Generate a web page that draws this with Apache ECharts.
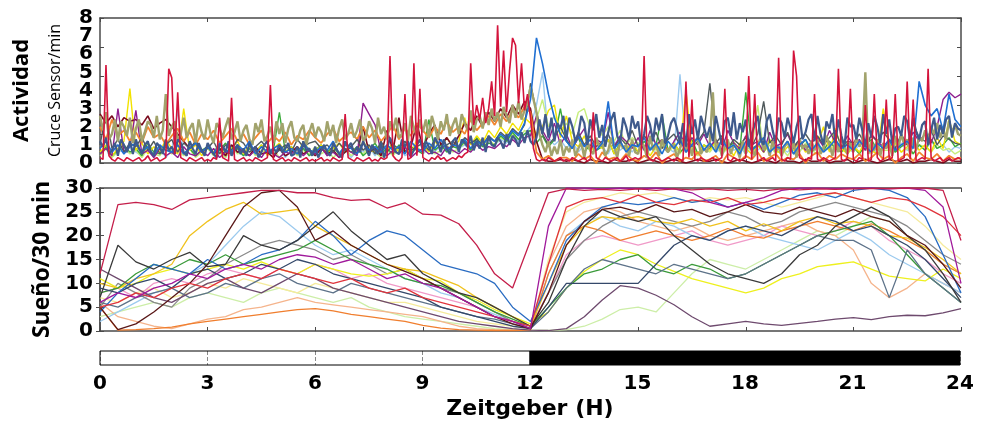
<!DOCTYPE html>
<html><head><meta charset="utf-8">
<script src="https://cdn.jsdelivr.net/npm/echarts@6/dist/echarts.min.js"></script>
<style>html,body{margin:0;padding:0;background:#fff}#c{width:987px;height:421px}</style>
</head><body><div id="c"></div>
<script>
// ---------- DATA ----------
const hourTicks = [0, 3, 6, 9, 12, 15, 18, 21, 24];
const lightStart = [0, 12];
const lightEnd = [12, 24];

// Activity, 5-min resolution (289 points, 0..24 h)
const actKhaki = [
2.6,1.8,2.8,1.3,1.6,2.4,1.2,2.3,2.0,1.5,2.5,1.1,
1.9,2.4,1.2,1.7,2.3,2.1,1.4,2.6,1.3,1.8,3.8,1.5,
2.0,2.3,1.2,1.6,2.5,1.4,1.9,2.2,1.1,2.4,1.7,1.3,
2.4,1.6,1.1,2.2,1.9,1.4,2.0,2.5,1.3,1.7,2.3,1.2,
1.8,2.1,1.3,1.0,2.2,1.7,2.4,1.2,1.5,2.0,1.1,2.3,
1.6,2.2,1.1,1.9,2.3,1.4,1.2,1.8,2.1,1.0,1.7,2.2,
1.4,2.0,1.7,1.2,2.3,1.5,2.1,1.1,1.9,2.4,1.3,1.6,
2.2,1.4,1.8,2.4,1.2,1.5,2.3,1.9,1.1,2.5,1.6,2.0,
1.3,2.3,1.8,2.5,1.4,1.6,2.2,1.2,2.6,1.9,1.5,2.4,
1.7,2.4,1.4,2.6,2.0,1.3,2.3,1.8,2.7,1.5,2.1,2.5,
1.6,2.7,2.2,1.8,2.9,1.7,2.4,2.6,1.9,2.8,2.1,3.0,
2.3,2.8,2.0,3.1,2.6,2.2,3.2,2.5,3.4,2.4,2.9,3.3,
4.2,3.5,2.8,1.6,1.0,0.6,1.2,0.4,0.9,0.5,1.3,0.4,
0.9,0.6,1.3,0.4,0.8,1.1,0.3,1.2,0.7,0.5,1.4,0.9,
1.1,0.4,0.7,1.4,0.9,0.3,1.2,0.8,1.0,0.4,1.3,0.6,
0.5,1.2,0.9,0.3,1.5,0.7,1.1,0.4,1.3,0.8,0.6,1.0,
1.0,0.3,0.8,1.3,0.6,1.1,0.4,1.2,1.4,0.5,0.8,0.6,
1.2,3.9,0.7,1.1,0.4,0.9,1.3,0.5,1.0,0.8,0.3,1.2,
0.5,1.3,0.9,0.4,1.0,1.4,0.7,1.1,0.4,1.2,0.6,0.9,
0.4,0.9,1.2,0.6,1.1,0.3,1.3,0.8,1.0,0.5,1.2,0.7,
1.3,0.5,0.8,1.5,1.0,0.4,1.2,0.6,1.4,0.9,0.5,1.1,
0.6,1.4,0.9,1.2,5.0,0.5,1.2,0.7,1.3,0.4,1.1,0.8,
1.1,0.4,1.5,0.8,1.6,1.0,1.3,0.5,1.4,0.7,1.5,1.2,
1.8,1.2,2.0,1.6,2.2,1.4,1.9,1.3,2.3,1.7,2.1,1.6,
1.5];
const actSlate = [
1.2,0.9,1.4,0.5,0.7,1.1,0.4,1.3,1.0,0.6,1.2,0.5,
1.3,0.8,0.5,1.0,1.2,0.6,0.4,1.1,0.9,0.5,1.3,0.7,
0.9,0.5,1.3,1.1,0.6,0.4,1.2,0.8,0.5,1.1,0.7,0.4,
1.1,0.8,0.5,0.3,1.0,0.9,0.6,1.2,0.4,0.7,1.0,0.5,
0.8,0.4,1.1,0.7,0.9,0.3,0.6,1.0,1.2,0.5,0.8,0.6,
1.0,0.6,0.8,1.1,0.4,0.5,0.9,0.3,1.2,0.7,0.8,0.4,
0.9,0.3,0.7,1.0,0.6,0.4,1.1,0.8,0.5,0.3,1.2,0.9,
1.1,0.5,0.9,0.6,1.2,0.8,0.4,1.0,0.7,0.5,1.1,0.3,
0.8,1.4,1.0,0.6,0.5,1.3,0.9,1.2,0.4,0.7,1.0,1.3,
0.7,1.2,0.9,0.5,1.4,1.1,0.6,1.3,0.8,0.5,1.2,1.4,
0.6,1.3,1.1,0.9,1.5,0.7,1.2,0.8,1.4,0.6,1.5,1.0,
0.9,1.4,1.2,0.8,1.6,1.0,1.5,1.3,0.9,1.7,1.1,1.8,
1.2,1.0,1.4,2.4,1.6,2.7,1.4,2.5,1.2,2.2,1.9,2.6,
1.3,2.5,2.0,1.2,1.6,2.6,2.2,1.0,2.4,1.8,2.7,1.4,
2.1,0.9,1.7,2.4,2.8,1.5,1.1,2.5,2.0,1.3,2.6,1.9,
2.3,1.0,1.6,2.6,2.1,1.2,2.5,1.8,2.7,1.1,1.5,2.2,
2.5,1.9,1.1,2.2,0.9,2.7,1.6,2.4,1.3,2.6,2.0,1.4,
2.0,1.2,2.6,1.8,1.0,2.3,2.5,1.5,2.8,1.3,2.2,1.7,
2.4,0.9,1.6,2.1,2.6,1.3,1.0,2.3,2.7,1.8,1.1,2.5,
2.2,1.4,2.5,1.9,1.1,2.0,2.6,1.3,1.7,2.4,2.7,1.2,
2.6,1.6,1.0,2.3,1.9,2.7,1.1,2.4,1.5,0.9,2.5,2.0,
2.1,1.3,2.5,1.8,0.9,2.2,1.4,2.6,2.0,1.1,2.7,1.6,
2.4,1.1,1.9,2.0,1.5,2.6,2.3,1.2,2.5,1.7,1.3,2.1,
2.3,1.0,1.8,2.5,1.3,2.1,1.6,2.4,2.6,1.4,2.2,1.9,
1.8];
const actRed = [
0.3,0.2,5.4,0.4,0.2,0.1,0.3,0.2,0.1,0.3,0.2,0.1,
0.2,0.3,0.1,0.2,0.4,0.1,0.2,0.3,0.1,0.2,0.3,5.2,
4.7,0.5,3.9,0.3,0.2,0.1,0.3,0.2,0.1,0.2,0.3,0.1,
0.2,0.1,0.3,0.2,2.5,0.3,0.2,0.1,3.6,0.2,0.1,0.2,
0.3,0.1,0.2,0.1,0.3,0.2,0.1,0.2,0.3,4.3,0.2,0.1,
0.2,0.3,0.1,0.2,0.1,0.3,0.2,0.1,0.2,0.3,0.1,0.2,
0.1,0.2,0.3,0.1,0.2,0.1,0.3,0.2,0.1,0.2,2.7,0.3,
0.2,0.1,0.3,0.2,0.1,0.2,0.3,0.1,0.2,0.1,0.3,0.2,
0.3,5.9,0.4,0.2,0.1,0.3,3.8,0.2,0.3,5.5,0.4,4.1,
0.3,0.2,0.1,0.3,0.2,0.4,0.2,0.3,0.1,0.2,0.3,0.2,
0.4,0.3,0.5,0.6,5.5,2.1,3.2,2.4,3.6,2.2,3.0,4.5,
2.6,7.6,3.1,6.2,2.8,5.1,6.9,6.5,3.3,5.5,2.9,3.8,
2.5,0.8,0.2,0.1,0.2,0.1,0.3,0.2,0.1,0.2,0.3,0.1,
0.2,0.1,0.3,0.2,0.1,0.2,0.3,0.1,0.2,2.8,0.3,0.2,
0.1,0.3,0.2,0.1,0.2,0.3,0.1,0.2,0.4,0.1,0.2,0.3,
0.2,0.3,5.9,0.4,0.2,0.1,0.3,0.2,0.1,0.2,0.3,0.2,
0.1,0.3,0.2,0.1,4.5,0.3,3.5,0.2,0.1,0.3,0.2,0.1,
0.2,0.3,0.1,0.2,0.3,4.1,0.2,0.1,0.3,0.2,0.1,0.2,
0.3,4.8,0.2,3.8,0.1,0.2,0.3,0.1,0.2,0.3,0.1,5.8,
0.2,0.1,0.3,0.2,6.2,4.8,0.3,0.2,0.1,0.3,0.2,3.8,
0.2,0.1,0.3,0.2,0.1,0.2,0.3,5.2,0.2,0.1,0.3,4.1,
0.2,0.1,0.3,0.2,3.2,0.1,0.2,3.8,0.3,0.1,0.2,3.5,
0.2,0.3,3.8,0.1,0.2,0.3,4.5,0.2,3.5,0.1,0.2,0.3,
0.2,5.2,0.3,0.1,0.2,0.3,0.1,0.2,0.3,0.1,0.2,0.3,
0.2];

// Activity, 10-min resolution (145 points, 0..24 h)
const actMaroon = [
2.7,2.2,2.6,2.0,2.5,2.3, 2.4,2.1,2.6,1.9,2.2,2.4, 2.0,1.6,1.2,0.8,1.1,0.6, 0.9,0.5,0.8,0.4,1.0,0.6,
0.7,0.4,0.9,0.5,0.6,0.3, 0.8,0.4,0.6,0.9,0.5,0.7, 0.4,0.8,0.5,0.7,0.3,0.6, 0.9,0.5,2.0,0.6,0.8,0.4,
1.8,0.7,2.5,0.6,0.9,2.2, 0.8,1.6,2.1,1.0,1.4,0.9, 1.5,2.2,1.8,2.6,2.0,2.8, 2.3,3.0,2.5,3.2,2.7,3.4,
3.0,1.2,0.2,0.1,0.1,0.2, 0.1,0.2,0.1,0.0,0.2,0.1, 0.1,0.0,0.2,0.1,0.1,0.2, 0.0,0.1,0.2,0.1,0.0,0.1,
0.2,0.1,0.0,0.1,0.2,0.1, 0.1,0.2,0.1,0.0,0.1,0.2, 0.1,0.0,0.1,0.2,0.1,0.0, 0.2,0.1,0.1,0.0,0.2,0.1,
0.1,0.2,0.0,0.1,0.1,0.2, 0.0,0.1,0.2,0.1,0.0,0.1, 0.2,0.1,0.1,0.2,0.0,0.1, 0.1,0.2,0.1,0.0,0.2,0.1, 0.1];
const actOrange = [
2.0,1.3,2.4,1.5,1.8,1.2, 1.7,1.1,2.0,1.4,1.6,1.0, 1.5,1.9,1.2,1.7,1.0,1.6, 1.3,1.8,1.1,1.5,1.9,1.2,
1.6,1.0,1.4,1.8,1.1,1.5, 1.2,1.7,1.0,1.5,1.3,1.8, 1.4,1.1,1.6,1.9,1.2,1.5, 1.7,1.3,2.0,1.4,1.8,1.2,
1.6,2.1,1.3,1.9,1.5,2.2, 1.8,1.4,2.0,1.6,2.3,1.7, 2.0,1.6,2.4,1.8,2.2,2.6, 2.1,2.7,2.3,2.9,2.5,3.1,
2.8,0.6,0.2,0.4,0.1,0.3, 0.3,0.1,0.5,0.2,0.4,0.0, 0.6,0.2,0.3,0.1,0.5,0.2, 0.1,0.4,0.2,0.6,0.0,0.3,
0.5,0.1,0.3,0.2,0.6,0.1, 0.2,0.4,0.0,0.5,0.3,0.1, 0.4,0.2,0.6,0.1,0.3,0.5, 0.1,0.3,0.2,0.5,0.0,0.4,
0.6,0.1,0.4,0.2,0.5,0.3, 0.2,0.5,0.1,0.3,0.6,0.2, 0.4,0.0,0.3,0.5,0.1,0.6, 0.3,0.2,0.5,0.1,0.4,0.2, 0.3];
const actPurple = [
0.5,0.8,0.4,3.0,0.6,0.9, 2.9,0.5,0.7,0.3,0.8,0.4, 0.6,0.3,0.9,0.5,0.4,0.7, 0.4,0.8,0.3,0.6,0.5,0.9,
0.6,0.4,0.7,0.3,0.8,0.5, 0.3,0.6,0.5,0.8,0.4,0.7, 0.5,0.9,0.4,0.6,0.3,0.8, 0.6,0.4,3.3,2.7,2.1,0.6,
0.4,0.7,0.5,0.9,0.3,0.6, 0.8,0.5,0.6,0.4,0.9,0.7, 0.5,0.8,0.6,1.0,0.7,0.9, 0.8,1.1,0.9,1.3,1.0,1.4,
1.5,2.6,1.8,1.2,2.2,1.0, 1.6,0.8,1.4,1.9,0.7,1.3, 1.1,2.8,0.9,1.5,1.2,0.8, 1.4,0.7,1.8,1.0,1.3,0.6,
1.2,1.7,0.8,1.4,1.0,1.6, 0.9,1.3,0.7,1.8,1.1,0.8, 1.5,1.0,1.2,0.6,1.7,0.9, 1.1,1.6,0.8,1.3,0.7,1.2,
1.4,0.9,1.8,1.1,0.8,1.5, 1.0,1.3,0.7,1.6,1.2,0.9, 1.3,0.8,1.5,1.0,1.7,1.2, 1.6,1.1,2.0,3.5,3.9,3.6, 3.8];
const actYellow = [
0.6,1.0,0.4,0.8,1.2,4.1, 0.7,1.1,0.5,0.9,0.6,1.3, 0.8,0.5,3.0,0.7,1.0,0.4, 0.9,0.6,1.1,0.5,0.8,1.2,
0.5,0.9,0.6,1.0,0.4,0.8, 1.1,0.6,0.9,0.5,1.2,0.7, 0.6,1.0,0.5,0.8,1.1,0.6, 0.9,0.5,1.2,0.7,0.6,1.0,
0.7,1.1,0.6,0.9,0.5,1.3, 1.0,0.6,1.2,0.8,1.4,0.9, 1.2,2.5,1.0,1.5,1.1,1.8, 1.4,2.0,1.6,2.2,1.8,2.5,
2.2,1.6,2.0,2.9,3.2,1.4, 2.6,1.2,0.9,1.5,0.6,1.1, 0.8,1.3,0.5,1.0,0.7,1.2, 0.6,1.0,0.4,0.9,1.3,0.7,
1.1,0.6,4.0,0.8,0.5,1.0, 0.7,1.2,0.6,0.9,0.4,1.1, 0.8,0.5,1.0,0.6,1.3,0.7, 0.5,0.9,0.7,1.2,0.6,0.8,
1.0,2.0,0.6,1.9,0.8,0.5, 0.9,0.6,1.2,0.7,0.5,3.0, 0.8,1.1,0.6,0.9,1.3,0.7, 1.0,0.6,1.4,0.8,2.4,1.2, 1.0];
const actGreen = [
0.5,0.9,0.4,0.7,1.0,0.6, 0.8,0.4,1.1,0.6,0.5,0.9, 0.6,1.0,0.5,0.8,0.4,0.7, 0.9,0.5,0.7,1.1,0.6,0.8,
0.4,0.8,0.6,1.0,0.5,0.7, 2.8,0.6,0.9,0.5,0.8,0.4, 0.7,1.0,0.6,0.9,0.5,0.8, 0.6,0.9,0.4,0.7,1.1,0.5,
0.8,0.5,1.0,0.6,0.9,0.7, 0.5,2.4,0.7,1.0,0.6,0.9, 0.8,1.2,0.7,1.4,0.9,1.1, 1.0,1.5,1.2,1.7,1.3,1.6,
1.8,1.1,1.5,0.9,1.3,3.0, 1.2,0.8,1.4,0.6,1.0,0.7, 0.9,1.3,0.5,1.1,0.7,1.0, 0.6,1.2,0.8,1.0,2.7,0.7,
1.1,0.6,0.9,1.3,0.5,1.0, 0.8,1.2,0.6,0.9,1.1,0.7, 3.9,0.8,1.0,0.6,1.2,0.9, 0.7,1.1,0.5,0.9,1.3,0.6,
1.0,0.7,1.2,0.8,0.6,1.1, 0.9,0.5,1.0,1.3,0.7,0.8, 1.2,0.6,0.9,1.1,0.5,1.0, 0.7,1.3,0.8,1.0,1.4,0.9, 1.1];
const actLightGreen = [
0.4,0.8,0.3,0.6,0.9,0.5, 0.7,0.3,0.8,0.5,0.4,0.9, 0.5,0.7,0.4,0.8,0.3,0.6, 0.8,0.4,0.6,0.3,0.9,0.5,
0.6,0.9,0.4,0.7,0.5,0.8, 0.3,0.6,0.8,0.4,0.7,0.5, 0.9,0.5,0.7,0.3,0.6,0.8, 0.4,0.7,0.5,0.9,0.6,0.3,
0.7,0.4,0.8,0.6,0.5,0.9, 0.6,0.9,0.5,0.7,1.0,0.6, 0.8,1.1,0.7,1.2,0.9,1.3, 1.0,1.4,1.2,1.6,1.3,1.8,
1.5,2.4,3.5,2.0,2.6,1.8, 2.2,1.6,2.8,3.0,1.9,2.3, 1.5,2.0,1.2,1.8,1.0,1.4, 1.1,0.8,1.3,0.7,1.0,0.6,
0.9,0.5,1.1,0.7,0.4,0.8, 0.6,1.0,0.5,0.8,1.2,0.6, 0.9,0.7,3.2,0.6,1.0,0.5, 0.8,0.4,0.9,0.6,1.1,0.7,
0.5,0.9,0.7,1.0,0.6,0.8, 1.0,0.6,0.8,0.5,0.9,0.7, 0.7,1.1,0.6,0.8,0.5,1.0, 0.9,0.6,1.0,0.7,0.8,0.5, 0.7];
const actBlue = [
0.8,1.2,0.6,1.0,0.5,0.9, 1.1,0.6,0.9,0.4,1.0,0.7, 0.6,1.0,0.5,0.8,1.1,0.6, 0.9,0.5,1.1,0.7,0.6,1.0,
0.7,1.2,0.5,0.9,0.6,0.8, 1.0,0.6,0.8,0.5,1.1,0.7, 0.6,0.9,0.7,1.2,0.5,1.0, 0.8,0.5,1.1,0.7,0.9,0.6,
1.0,0.7,0.9,0.5,1.2,0.8, 0.6,1.1,0.8,1.3,0.7,1.0, 0.9,1.3,0.8,1.2,1.0,1.4, 1.2,1.6,1.3,1.8,1.5,2.2,
3.5,6.9,5.5,3.8,2.5,1.6, 1.2,0.8,1.5,0.9,1.3,0.7, 1.1,3.4,0.8,1.2,0.6,1.0, 0.9,1.4,0.7,1.1,0.5,1.2,
0.8,1.3,0.6,1.0,1.4,0.7, 1.1,0.6,1.3,0.8,1.0,0.5, 1.2,0.7,1.0,1.4,0.6,0.9, 0.8,1.2,0.5,1.0,1.3,0.7,
1.1,0.6,0.9,1.3,0.8,1.0, 0.7,1.2,0.9,0.6,1.1,0.8, 1.3,0.7,1.0,1.2,0.8,4.5, 3.2,2.6,3.0,1.8,3.8,2.4, 2.0];
const actLightBlue = [
0.5,0.9,0.4,0.7,0.6,1.0, 0.6,0.4,0.8,0.5,0.9,0.3, 0.7,2.9,0.5,0.8,0.4,0.6, 0.9,0.5,0.7,0.3,0.8,0.6,
0.4,0.8,0.6,0.9,0.5,0.7, 0.8,0.3,0.7,0.5,0.9,0.4, 0.6,0.9,0.4,0.8,0.5,0.7, 0.3,0.7,0.6,0.9,0.4,0.8,
0.7,0.5,0.9,0.4,0.6,0.8, 0.5,0.8,0.6,1.0,0.7,0.9, 0.8,1.0,0.7,1.2,0.9,1.1, 1.0,1.3,1.1,1.5,1.2,1.6,
2.0,3.2,5.0,1.4,1.0,1.3, 0.8,1.2,0.6,1.0,0.7,1.1, 0.9,0.5,1.2,0.7,1.0,0.6, 1.1,0.7,0.9,0.5,1.0,0.8,
0.6,4.9,0.8,1.1,0.5,0.9, 1.0,0.6,0.8,1.2,0.7,0.9, 0.5,0.9,0.7,1.0,0.6,1.1, 0.8,0.6,1.0,0.7,0.9,0.5,
1.1,0.7,0.9,0.6,1.0,0.8, 0.6,1.0,0.7,0.9,0.5,0.8, 0.9,0.6,1.1,0.7,0.8,1.0, 0.7,1.2,0.8,1.0,0.6,0.9, 0.8];
const actDarkGray = [
1.0,2.7,0.8,1.3,0.6,1.1, 0.9,1.4,0.7,1.2,0.5,1.0, 1.3,0.6,1.1,0.8,1.2,0.7, 0.8,1.2,0.5,1.0,0.7,1.3,
1.1,0.6,0.9,1.2,0.8,0.5, 0.7,1.0,0.6,1.3,0.9,1.1, 1.2,0.8,1.0,0.6,1.1,0.7, 0.9,1.3,0.7,1.0,0.5,1.2,
0.6,1.0,0.8,1.2,0.7,0.9, 1.1,0.7,1.3,0.8,1.0,1.2, 0.9,1.4,1.1,1.3,1.0,1.5, 1.2,1.7,1.4,1.9,1.6,2.1,
4.4,2.8,1.6,1.0,1.4,2.0, 1.3,0.8,1.7,1.0,1.5,0.9, 1.2,1.6,0.8,1.4,1.0,1.8, 0.9,1.5,1.1,1.7,0.8,1.3,
1.6,1.0,1.4,0.9,1.2,1.7, 4.4,1.1,1.5,0.8,1.3,1.0, 1.4,0.9,1.6,3.4,1.1,1.5, 1.0,1.7,0.9,1.3,1.6,1.1,
1.5,1.0,1.4,1.8,0.9,1.2, 1.1,1.6,1.0,1.5,1.2,1.7, 1.3,0.8,1.6,1.0,2.2,1.4, 1.2,1.8,1.0,1.5,1.3,1.1, 1.0];

// Sleep per 30 min, 30-min resolution (49 points, 0..24 h)
const sleepCrimson  = [12,26.5,27,26.5,25.5,27.5,28,28.5,29,29.5,29.5,29,29,28,27.4,27.6,25.8,26.9,24.5,24.3,22.5,18,12,9,19,29,29.8,29.5,29.7,29.5,29.8,29.5,29.8,29.6,29.8,29.5,29.7,29.4,29.8,29.6,29.8,29.7,29.8,29.9,29.9,30,30,29.5,19];
const sleepRed      = [5,6,8,7,9,10,9,11,12,11,13,12,11,10,11,9,8,9,7,6,5,4,3,2,1,14,26,27.5,28,27,28.5,27,26.5,27.5,27,28,26.5,27,28,27.5,28.5,29,28,27,28,27.5,26,24,20];
const sleepMagenta  = [6,8,7,9,10,12,11,13,14,13,15,16,15.5,14,15,13,11,12,10,9,7,5,3,2,0.5,22,30,30,29.8,30,29.9,30,29.8,29,27,26,27,28,29.5,30,30,29.9,30,30,29.8,30,29.5,26,10];
const sleepGold     = [10,9,11,12,14,20,23,25.5,27,24.5,25,25.5,22,20,18,16,14,13,12.5,11,9.5,7,5,3,1,10,18,22,24,23.5,24,23,22.5,23.5,22,23,21,22.5,21,23,24,22.5,23,22,20,19.5,17.5,15,12];
const sleepLemon    = [11,9,10,12,13,12,13,14,13,14.5,13,12,14,13,12,11.5,12,13,11,10.5,8,6.5,4.5,3,1.5,4,9,12.5,15,17,16,14,12.5,11,10,9,8,9,11,12,13.5,14,14.5,13,11.5,11,10.5,13,11];
const sleepBrown    = [5,0.3,1.5,4,7,10,14,20,26,29,29.5,26,19,21,18,16,14,12.5,11,9,7,5,3,1.5,0.5,8,18,23,25.5,26,25,26.5,25,25.5,24,25,26.5,25,24.5,26,25,24,25.5,24,23,20,18,14,9];
const sleepDark     = [7,18,14.5,13,15,16.5,13.5,14,20,18,17,19,22,25,21,18,15,16,12,10,8,7,5,3,1,6,15,22,25.5,24,23,24,20,17,14,12,11,10,12,16,18,22,24,26,24,20,17,12,6];
const sleepBlue     = [4,8,11,14,13,12,15,13,14,16,17,19,23,20,16,19,21,20,17,14,13,12,10,5,2,10,19,23,26,27,26.5,27,28,27,27.5,26,27,25.5,27,28.5,29,28,29.5,30,29.5,28,24,16,8];
const sleepSlate    = [6,5,7,8,9,7,8,10,9,11,12,10,9,8,10,9,8,7,6,5,4,3,2.5,1.5,0.5,4,9,13,15,14,13,12,14,13,12,11,12,14,16,18,20,19,19,17,7,17,12,9,6];
const sleepGreen    = [8,9,12,14,13,15,14,16,14,15,16,17,19,17,15,14,13,11,10,9.5,8,6,4,2.5,1,5,9,12,13,15,16,13,12,14,13,11,12,14,16,18,20,21,22,23,20,16,12,9,6];
const sleepLightBlue= [2,4,6,8,9,12,14,18,22,25,24,21,18,16,17,15,13,11,10,8,7,5,3.5,2,1,12,20,23,24,22,21,23,22,20,19,21,22,20,19,18,17,19,21,19,16,14,12,10,8];
const sleepOrange   = [5,0.2,0.3,0.5,0.8,1.5,2,2.5,3,3.5,4,4.5,4.7,4.2,3.5,3,2.5,2,1.2,0.6,0.3,0.2,0.1,0.1,0.2,12,20,22,21,19,20,21,20,19,20,21.5,20,19.5,21,22,23,22,21,22.5,21,19,17,14,12];
const sleepPeach    = [6,3,2,1,0.5,1.5,2.5,3,4.5,5,6,7,6,5.5,5,4.5,4,3.5,3,2,1,0.5,0.3,0.2,0.2,14,22,25,26,25,23,22,21,22,20,19,20,21,22,23,21,20,17,10,7,9,12,10,8];
const sleepGray     = [5,10,8,6,5,9,11,14,16,18,19,18,17,15,16,14,12,13,11,9,8,6,4,2,0.5,8,15,19,22,24,25,24,23,22,23,25,24,22,23,25,26,27,26,25,24,22,19,16,14];
const sleepPlum     = [13,11,9,7,6,8,10,11,9,8,10,12,11,9,8,7,6,5,4,3,2,1.5,1,0.5,0.2,0.1,0.5,3,6.5,9.5,9,7.5,5.5,3,1,1.5,2,1.5,1.2,1.6,2,2.5,2.8,2.4,3,3.3,3.2,3.8,4.7];
const sleepPaleGreen= [3,4,5,6,5,7,8,7,6,8,9,8,7,6,7,5,4,3,2.5,2,1.5,1,0.5,0.3,0.2,0.1,0.3,1,2.5,4.5,5,4,8,12,15,14,13,15,17,19,21,20,22,24,23,20,17,14,12];
const sleepNavy     = [9,8,10,11,9,12,13,11,12,14,13,15,14,12,11,10,9,8,7,5,4,3,2,1,0.5,5,10,10,10,10,10,14,18,20,19,21,22,21,20,22,24,23,21,22,20,18,15,11,7];
const sleepCream    = [7,6,8,9,7,8,10,9,11,10,9,8,10,9,8,7,6,6,5,4,3,2,1.5,1,0.5,15,25,27,28,29,28.5,29,28,27,28,27.5,28,27,26,27,28,29,28,27,26,25,22,18,15];
const sleepPink     = [8,9,7,10,11,10,12,13,12,11,13,12,14,13,11,12,10,9,8,7,6,5,3,2,1,8,16,19,20,19,18,19,20,21,19,18,19,20,22,21,20,21,23,22,19,17,15,12,10];

// ---------- CHART ----------
function pairs(arr, perHour) { return arr.map((v, i) => [i / perHour, v]); }

const actSeries = [
  [actLightBlue, '#9ccaf0', 1.4, 6], [actLightGreen, '#c6ee7c', 1.4, 6], [actGreen, '#3aaa3a', 1.4, 6],
  [actYellow, '#f2e200', 1.4, 6], [actMaroon, '#7a0c1e', 1.6, 6], [actPurple, '#8e1e8e', 1.4, 6],
  [actOrange, '#f2852e', 1.8, 6], [actDarkGray, '#505a5c', 1.4, 6], [actKhaki, '#a2a36c', 2.4, 12],
  [actBlue, '#1f6fd2', 1.6, 6], [actSlate, '#3f5a8c', 2.2, 12], [actRed, '#d4143c', 1.6, 12]
];
const sleepSeries = [
  [sleepPaleGreen, '#cdeea8'], [sleepCream, '#f5eb9c'], [sleepPeach, '#f5b48c'], [sleepPink, '#f09ac8'],
  [sleepLightBlue, '#9ccaee'], [sleepOrange, '#f07e2e'], [sleepGray, '#8a8a8a'], [sleepLemon, '#eef01e'],
  [sleepGold, '#f0c21e'], [sleepGreen, '#3a9a3a'], [sleepSlate, '#5d7289'], [sleepNavy, '#34486a'],
  [sleepPlum, '#6e4a6e'], [sleepBlue, '#2a6cc2'], [sleepDark, '#3a3a3a'], [sleepBrown, '#5a1818'],
  [sleepRed, '#e0343c'], [sleepMagenta, '#a0199b'], [sleepCrimson, '#c41e4a']
];

const frame = '#4a4a4a';
const numFont = { fontFamily: 'DejaVu Sans', fontWeight: 'bold', fontSize: 20, color: '#000' };
function xA(grid, pos, extra) {
  return Object.assign({ type: 'value', gridIndex: grid, position: pos, min: 0, max: 24, interval: 3,
    axisLine: { show: true, onZero: false, lineStyle: { color: frame, width: 1.5 } },
    axisTick: { show: true, inside: true, length: 4, lineStyle: { color: frame } },
    axisLabel: { show: false }, splitLine: { show: false } }, extra || {});
}

const series = [];
actSeries.forEach(([d, c, w, ph]) => series.push({ type: 'line', xAxisIndex: 0, yAxisIndex: 0,
  data: pairs(d, ph), symbol: 'none', lineStyle: { color: c, width: w }, itemStyle: { color: c } }));
sleepSeries.forEach(([d, c]) => series.push({ type: 'line', xAxisIndex: 2, yAxisIndex: 4,
  data: pairs(d, 2), symbol: 'none', lineStyle: { color: c, width: 1.3 }, itemStyle: { color: c } }));
series.push({ type: 'custom', xAxisIndex: 4, yAxisIndex: 6,
  data: lightStart.map((s, i) => [s, lightEnd[i]]),
  encode: { x: [0, 1] },
  renderItem: (params, api) => {
    const p0 = api.coord([api.value(0), 1]);
    const p1 = api.coord([api.value(1), 0]);
    return { type: 'rect', shape: { x: p0[0], y: p0[1], width: p1[0] - p0[0], height: p1[1] - p0[1] },
      style: { fill: params.dataIndex === 1 ? '#000' : 'rgba(0,0,0,0)', stroke: '#000', lineWidth: 1 } };
  } });

const option = {
  animation: false,
  backgroundColor: '#fff',
  grid: [
    { left: 100, right: 26, top: 18, height: 145 },
    { left: 100, right: 26, top: 188, height: 143 },
    { left: 100, right: 27, top: 351, height: 15 }
  ],
  xAxis: [
    xA(0, 'bottom'), xA(0, 'top'), xA(1, 'bottom'), xA(1, 'top'),
    xA(2, 'bottom', {
      axisLine: { show: false }, axisTick: { show: false },
      axisLabel: Object.assign({ show: true, margin: 9, formatter: v => hourTicks.includes(v) ? String(v) : '' }, numFont),
      splitLine: { show: true, lineStyle: { color: '#888', type: 'dashed', width: 1 } },
      name: 'Zeitgeber (H)', nameLocation: 'middle', nameGap: 33,
      nameTextStyle: { fontFamily: 'DejaVu Sans', fontWeight: 'bold', fontSize: 22, color: '#000' }
    })
  ],
  yAxis: [
    // 0: activity labels 1..7 (+ name)
    { type: 'value', gridIndex: 0, position: 'left', min: 0, max: 8, interval: 1,
      axisLine: { show: true, lineStyle: { color: frame, width: 1.5 } }, axisTick: { show: false },
      axisLabel: Object.assign({ margin: 7 }, numFont),
      splitLine: { show: false },
      name: '{a|Actividad}\n{b|Cruce Sensor/min}', nameLocation: 'middle', nameRotate: 90, nameGap: 32,
      nameTextStyle: { rich: {
        a: { fontFamily: 'Open Sans', fontWeight: 'bold', fontSize: 22, lineHeight: 40, color: '#000' },
        b: { fontFamily: 'Open Sans', fontSize: 16, lineHeight: 26, color: '#000' } } } },
    // 1: activity end labels 0 and 8
    { type: 'value', gridIndex: 0, position: 'left', min: 0, max: 8, interval: 8,
      axisLine: { show: false }, axisTick: { show: false },
      axisLabel: Object.assign({ margin: 7, showMinLabel: true, showMaxLabel: true }, numFont), splitLine: { show: false } },
    // 2: left ticks
    { type: 'value', gridIndex: 0, position: 'left', min: 0, max: 8, interval: 1.6,
      axisLine: { show: false }, axisTick: { show: true, inside: true, length: 4, lineStyle: { color: frame } },
      axisLabel: { show: false }, splitLine: { show: false } },
    // 3: right frame
    { type: 'value', gridIndex: 0, position: 'right', min: 0, max: 8, interval: 1.6,
      axisLine: { show: true, lineStyle: { color: frame, width: 1.5 } },
      axisTick: { show: true, inside: true, length: 4, lineStyle: { color: frame } },
      axisLabel: { show: false }, splitLine: { show: false } },
    // 4: sleep labels
    { type: 'value', gridIndex: 1, position: 'left', min: 0, max: 30, interval: 5,
      axisLine: { show: true, lineStyle: { color: frame, width: 1.5 } },
      axisTick: { show: true, inside: true, length: 4, lineStyle: { color: frame } },
      axisLabel: Object.assign({ margin: 7, showMinLabel: true, showMaxLabel: true }, numFont), splitLine: { show: false },
      name: 'Sueño/30 min', nameLocation: 'middle', nameRotate: 90, nameGap: 42,
      nameTextStyle: { fontFamily: 'Open Sans', fontWeight: 'bold', fontSize: 23, color: '#000' } },
    // 5: sleep right frame
    { type: 'value', gridIndex: 1, position: 'right', min: 0, max: 30, interval: 5,
      axisLine: { show: true, lineStyle: { color: frame, width: 1.5 } },
      axisTick: { show: true, inside: true, length: 4, lineStyle: { color: frame } },
      axisLabel: { show: false }, splitLine: { show: false } },
    // 6: light bar
    { type: 'value', gridIndex: 2, min: 0, max: 1, show: false }
  ],
  series: series
};
const chart = echarts.init(document.getElementById('c'));
chart.setOption(option);
</script></body></html>
